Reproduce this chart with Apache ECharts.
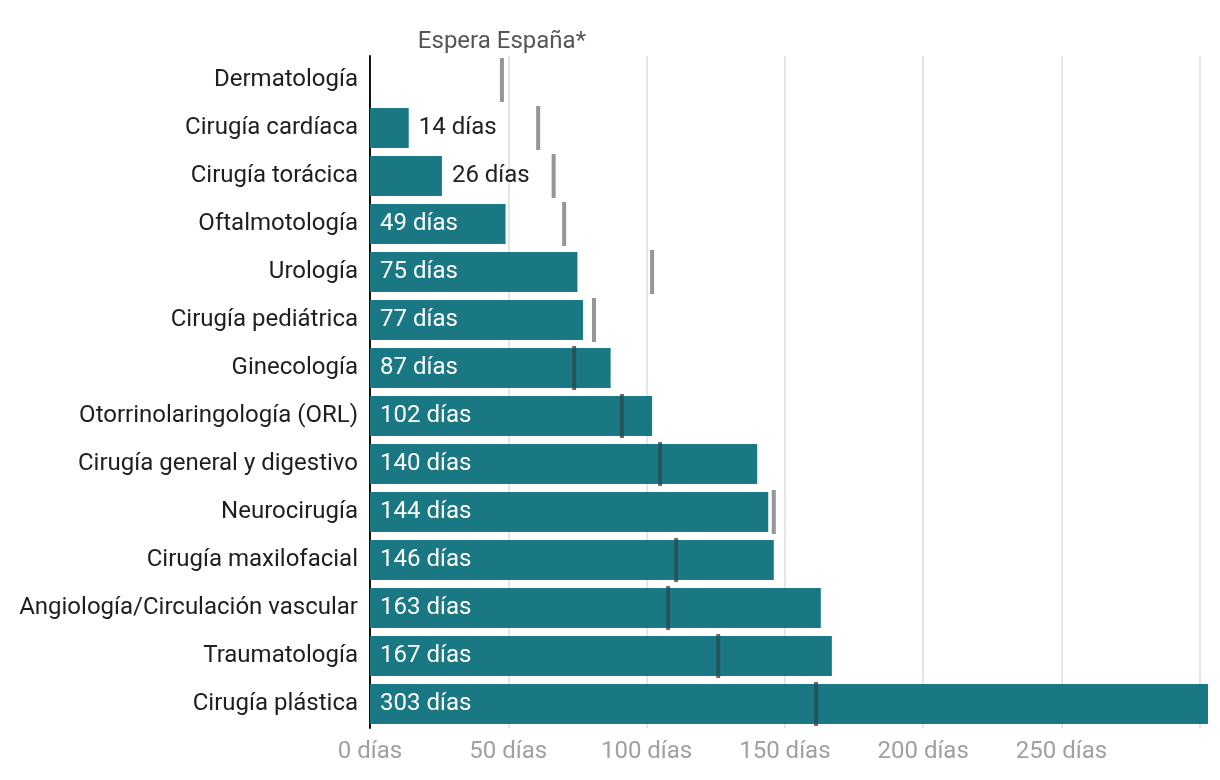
<!DOCTYPE html>
<html>
<head>
<meta charset="utf-8">
<script src="https://cdn.jsdelivr.net/npm/echarts@6/dist/echarts.min.js"></script>
<style>html,body{margin:0;padding:0;background:#fff}#c{width:1220px;height:780px}</style>
</head>
<body>
<div id="c"></div>
<script>
const categories = ['Dermatología','Cirugía cardíaca','Cirugía torácica','Oftalmotología','Urología','Cirugía pediátrica','Ginecología','Otorrinolaringología (ORL)','Cirugía general y digestivo','Neurocirugía','Cirugía maxilofacial','Angiología/Circulación vascular','Traumatología','Cirugía plástica'];
const waitDays = [null,14,26,49,75,77,87,102,140,144,146,163,167,303];
const spainDays = [47.7,60.8,66.4,70.2,102,81,73.8,91.1,104.9,146,110.7,107.8,125.9,161.3];
const xTickStep = 50;
const xTickLabels = {0: '0 días', 50: '50 días', 100: '100 días', 150: '150 días', 200: '200 días', 250: '250 días'};
const unit = ' días';
const markerTitle = 'Espera España*';

const FONT = 'Roboto';
const FS = 24;
const chart = echarts.init(document.getElementById('c'), null, {renderer: 'canvas'});
const barData = waitDays.map(v => ({
  value: v,
  label: v != null && v < 30
    ? {position: 'right', color: '#222', distance: 10}
    : {position: 'insideLeft', color: '#fff', distance: 10}
}));
const markerData = spainDays.map((v, i) => ({
  value: [v, categories[i]],
  itemStyle: {color: (waitDays[i] != null && waitDays[i] > v) ? '#2b4b50' : '#7c7c7c'},
  label: i === 0 ? {show: true, position: 'top', distance: 4, formatter: markerTitle, color: '#2a2a2a', fontSize: FS, fontFamily: FONT} : {show: false}
}));
chart.setOption({
  animation: false,
  grid: {left: 370, right: 12, top: 56, bottom: 52, outerBoundsMode: 'none', containLabel: false},
  xAxis: {
    type: 'value', min: 0, max: 'dataMax', interval: xTickStep,
    axisLine: {show: false}, axisTick: {show: false},
    splitLine: {show: true, showMaxLine: false, lineStyle: {color: '#e5e5e5', width: 2}},
    axisLabel: {formatter: v => xTickLabels[v] || '', color: '#a0a0a0', fontSize: FS, fontFamily: FONT, margin: 12, showMaxLabel: false}
  },
  yAxis: {
    type: 'category', data: categories, inverse: true,
    axisLine: {show: true, lineStyle: {color: '#111', width: 2}},
    axisTick: {show: false},
    axisLabel: {color: '#1e1e1e', fontSize: FS, fontFamily: FONT, margin: 12, padding: [4, 0, 0, 0]}
  },
  series: [
    {
      type: 'bar', data: barData, barWidth: 40, itemStyle: {color: '#197884'},
      label: {show: true, fontSize: FS, fontFamily: FONT, padding: [4, 0, 0, 0], formatter: p => p.value + unit},
      z: 2
    },
    {
      type: 'scatter', data: markerData, symbol: 'rect', symbolSize: [4, 44], z: 5
    }
  ]
});
</script>
</body>
</html>
